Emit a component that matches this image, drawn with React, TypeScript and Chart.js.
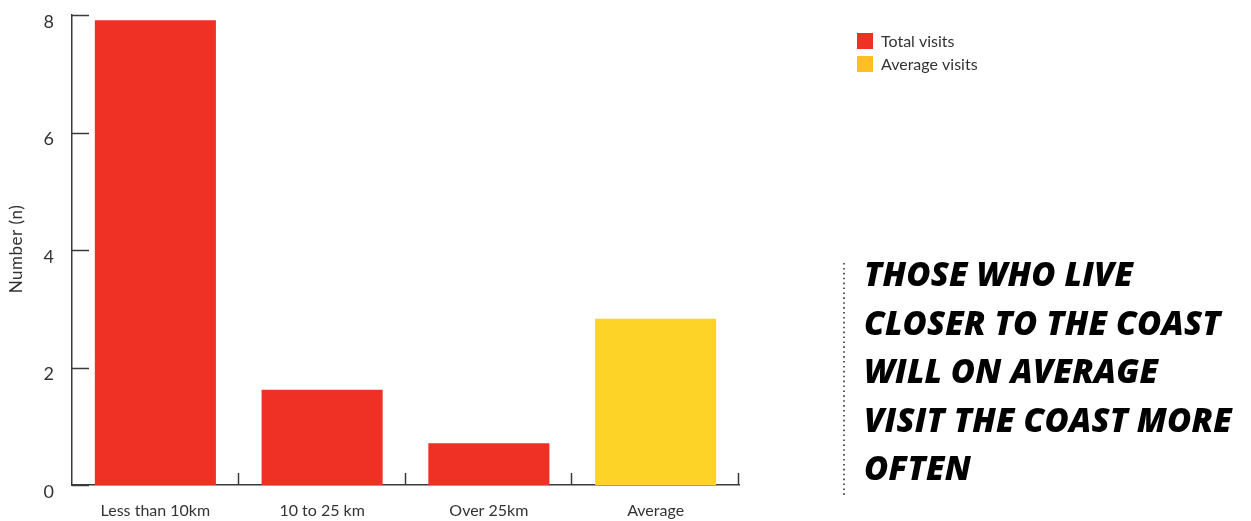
import React, { useEffect, useRef } from "react";
import { Chart, registerables } from "chart.js";

Chart.register(...registerables);

// Chart data
const categories = ["Less than 10km", "10 to 25 km", "Over 25km", "Average"];
const visitValues = [7.91, 1.62, 0.71, 2.83];
const barColors = ["#EE3124", "#EE3124", "#EE3124", "#FCD326"];
const yTickValues = [0, 2, 4, 6, 8];
const legendLabels = ["Total visits", "Average visits"];
const legendColors = ["#EE3124", "#FDBF22"];
const yAxisTitle = "Number (n)";
const takeawayLines = [
  "THOSE WHO LIVE",
  "CLOSER TO THE COAST",
  "WILL ON AVERAGE",
  "VISIT THE COAST MORE",
  "OFTEN",
];

const WIDTH = 1251;
const HEIGHT = 521;
const PLOT_TOP = 15;
const PLOT_RIGHT = 739;
const AXIS_COLOR = "#3a3a3a";
const TEXT_COLOR = "#333333";
const FONT = "Lato, 'Open Sans', sans-serif";

// Inner tick marks, y-axis title, legend and the dotted divider
const decorations = {
  id: "decorations",
  afterDraw(chart: any) {
    const { ctx, chartArea } = chart;
    const x = chart.scales.x;
    const y = chart.scales.y;
    ctx.save();
    ctx.strokeStyle = AXIS_COLOR;
    ctx.lineWidth = 1.5;

    // y ticks pointing into the plot
    y.ticks.forEach((t: any) => {
      const py = Math.round(y.getPixelForValue(t.value)) + 0.5;
      ctx.beginPath();
      ctx.moveTo(chartArea.left, py);
      ctx.lineTo(chartArea.left + 17, py);
      ctx.stroke();
    });

    // x ticks at category boundaries, pointing up
    const n = categories.length;
    for (let i = 1; i <= n; i++) {
      const px = Math.round(x.left + (i * x.width) / n) - 0.5;
      ctx.beginPath();
      ctx.moveTo(px, chartArea.bottom);
      ctx.lineTo(px, chartArea.bottom - 12);
      ctx.stroke();
    }

    // y-axis title
    ctx.fillStyle = TEXT_COLOR;
    ctx.font = `17px ${FONT}`;
    (ctx as any).letterSpacing = "0.5px";
    ctx.textAlign = "center";
    ctx.textBaseline = "middle";
    ctx.translate(17, 249);
    ctx.rotate(-Math.PI / 2);
    ctx.fillText(yAxisTitle, 0, 0);
    ctx.setTransform(1, 0, 0, 1, 0, 0);
    (ctx as any).letterSpacing = "0px";

    // legend
    ctx.textAlign = "left";
    ctx.textBaseline = "middle";
    ctx.font = `16px ${FONT}`;
    legendLabels.forEach((label, i) => {
      const top = 33 + i * 23;
      ctx.fillStyle = legendColors[i];
      ctx.fillRect(857, top, 16, 16);
      ctx.fillStyle = TEXT_COLOR;
      ctx.fillText(label, 881, top + 8.5);
    });

    // dotted divider
    ctx.strokeStyle = "#333333";
    ctx.lineWidth = 1.6;
    ctx.setLineDash([1.6, 3.3]);
    ctx.beginPath();
    ctx.moveTo(844, 263);
    ctx.lineTo(844, 495);
    ctx.stroke();
    ctx.restore();
  },
};

export default function App() {
  const canvasRef = useRef<HTMLCanvasElement | null>(null);

  useEffect(() => {
    document.body.style.margin = "0";
    const canvas = canvasRef.current;
    if (!canvas) return;
    const chart = new Chart(canvas, {
      type: "bar",
      data: {
        labels: categories,
        datasets: [
          {
            label: legendLabels[0],
            data: visitValues,
            backgroundColor: barColors,
            borderWidth: 0,
            categoryPercentage: 1,
            barPercentage: 0.726,
          },
        ],
      },
      options: {
        animation: false,
        responsive: false,
        devicePixelRatio: 1,
        layout: { padding: { top: PLOT_TOP, right: WIDTH - PLOT_RIGHT, left: 0, bottom: 0 } },
        plugins: {
          legend: { display: false },
          tooltip: { enabled: false },
          title: { display: false },
        },
        scales: {
          x: {
            grid: { display: false },
            border: { display: true, color: AXIS_COLOR, width: 1.5 },
            ticks: {
              color: TEXT_COLOR,
              font: { family: FONT, size: 16 },
              padding: 8,
              maxRotation: 0,
            },
            afterFit(scale: any) {
              scale.height = 36;
              scale.paddingLeft = 0;
              scale.paddingRight = 0;
            },
          },
          y: {
            min: 0,
            max: 8,
            grid: { display: false },
            border: { display: true, color: AXIS_COLOR, width: 1.5 },
            afterBuildTicks(scale: any) {
              scale.ticks = yTickValues.map((v) => ({ value: v }));
            },
            ticks: {
              color: TEXT_COLOR,
              font: { family: FONT, size: 18 },
              padding: 10,
              labelOffset: 7,
            },
            afterFit(scale: any) {
              scale.width = 72;
              scale.paddingTop = 0;
              scale.paddingBottom = 0;
            },
          },
        },
      },
      plugins: [decorations],
    });
    return () => chart.destroy();
  }, []);

  return (
    <div style={{ position: "relative", width: WIDTH, height: HEIGHT, background: "#ffffff" }}>
      <canvas ref={canvasRef} width={WIDTH} height={HEIGHT} style={{ display: "block" }} />
      <div
        style={{
          position: "absolute",
          left: 864,
          top: 250,
          fontFamily: "'Open Sans', sans-serif",
          fontStyle: "italic",
          fontWeight: 800,
          fontSize: 33,
          letterSpacing: 0.2,
          lineHeight: "48.5px",
          color: "#000000",
          whiteSpace: "nowrap",
        }}
      >
        {takeawayLines.map((line) => (
          <div key={line}>{line}</div>
        ))}
      </div>
    </div>
  );
}
